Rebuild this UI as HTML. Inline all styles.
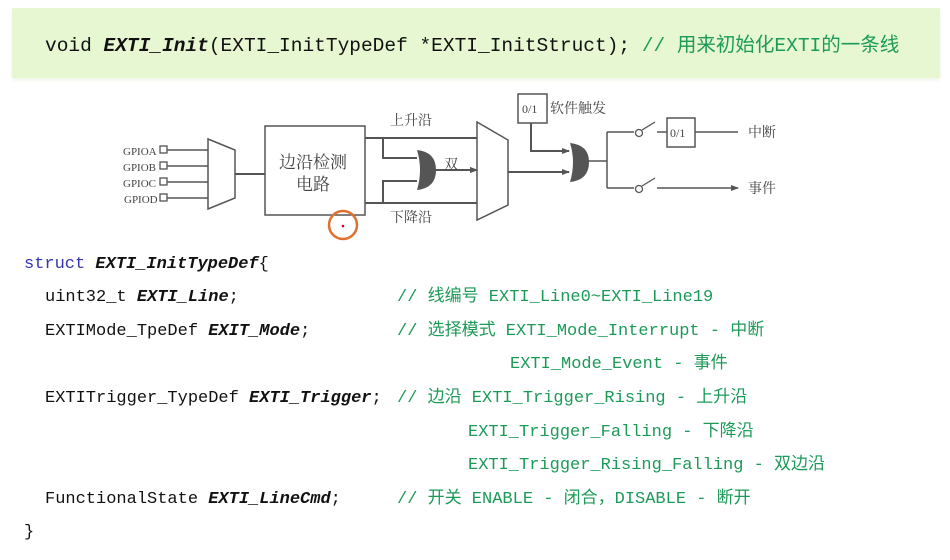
<!DOCTYPE html>
<html><head><meta charset="utf-8"><style>
body{margin:0;width:950px;height:560px;background:#fff;position:relative;overflow:hidden}
.band{position:absolute;left:12px;top:8px;width:928px;height:70px;background:#e6f7d2;box-shadow:0 2px 4px #eef5e6}
.t{position:absolute;white-space:pre;font-family:"Liberation Mono","Noto Sans CJK SC",monospace;font-size:17px;color:#111;line-height:20px}
.g{color:#1c9a58}
.b{font-weight:bold;font-style:italic}
.k{color:#3535b0}
.top{font-size:19.5px;top:36px}
</style></head><body>
<div class="band"></div>
<div class="t top" style="left:45px">void <span class="b">EXTI_Init</span>(EXTI_InitTypeDef *EXTI_InitStruct); <span class="g">// 用来初始化EXTI的一条线</span></div>

<svg style="position:absolute;left:0;top:0" width="950" height="560" xmlns="http://www.w3.org/2000/svg" font-family="Liberation Serif,Noto Serif CJK SC,serif">
<defs><marker id="a" markerWidth="8" markerHeight="8" refX="7" refY="4" orient="auto" markerUnits="userSpaceOnUse"><path d="M0,1 L8,4 L0,7z" fill="#555"/></marker></defs>
<g stroke="#555" stroke-width="2" fill="none">
<g font-size="11" fill="#444" stroke="none">
<text x="123" y="155">GPIOA</text><text x="123" y="171">GPIOB</text><text x="123" y="187">GPIOC</text><text x="124" y="203">GPIOD</text></g>
<rect x="160" y="146" width="7" height="7" stroke-width="1.3"/><rect x="160" y="162" width="7" height="7" stroke-width="1.3"/><rect x="160" y="178" width="7" height="7" stroke-width="1.3"/><rect x="160" y="194" width="7" height="7" stroke-width="1.3"/>
<path d="M167,150H208M167,166H208M167,182H208M167,198H208" stroke-width="1.5"/>
<path d="M208,139L235,150V198L208,209Z" stroke-width="1.5" fill="#fff"/>
<path d="M235,174H265"/>
<rect x="265" y="126" width="100" height="89" stroke-width="1.5" fill="#fff"/>
<path d="M365,138H477M365,203H477M383,138V158H412M383,203V181H412M435,170H477" marker-end="url(#a)"/>
<path d="M365,138H470M365,203H470M383,138V158H410M383,203V181H410M435,170H470"/>
<path d="M470,138H477M470,203H477M410,158H417M410,181H417M470,170H477" marker-end="url(#a)"/>
<path d="M417,150Q436,152 436,170Q436,188 417,190Q423,170 417,150Z" fill="#555" stroke="none"/>
<path d="M477,122L508,140V205L477,220Z" stroke-width="1.5" fill="#fff"/>
<path d="M508,172H562" /><path d="M560,172H569" marker-end="url(#a)"/>
<rect x="518" y="94" width="29" height="29" stroke-width="1.5" fill="#fff"/>
<path d="M531,123V151H562"/><path d="M560,151H569" marker-end="url(#a)"/>
<path d="M570,143Q589,145 589,162Q589,180 570,182Q576,162 570,143Z" fill="#555" stroke="none"/>
<path d="M588,161H607M607,132V188M607,132H634M607,188H634" stroke-width="1.5"/>
<circle cx="639" cy="133" r="3.5" stroke-width="1.3" fill="#fff"/><circle cx="639" cy="189" r="3.5" stroke-width="1.3" fill="#fff"/>
<path d="M642,130L655,122M642,186L655,178" stroke-width="1.3"/>
<path d="M657,132H667" stroke-width="1.5"/>
<rect x="667" y="118" width="28" height="29" stroke-width="1.5" fill="#fff"/>
<path d="M695,132H738M657,188H738" stroke-width="1.5" marker-end="url(#a)"/>
<circle cx="343" cy="225" r="14" stroke="#e07030" stroke-width="2.5"/>
</g>
<circle cx="343" cy="226" r="1.3" fill="#c00"/>
<g fill="#444" font-size="17">
<text x="279" y="168">边沿检测</text><text x="296" y="190">电路</text></g>
<g fill="#444" font-size="14">
<text x="390" y="125">上升沿</text><text x="444" y="169">双</text><text x="390" y="222">下降沿</text>
<text x="550" y="113">软件触发</text><text x="748" y="137">中断</text><text x="748" y="193">事件</text>
<text x="522" y="113" font-size="12">0/1</text><text x="670" y="137" font-size="12">0/1</text></g>
</svg>

<div class="t" style="left:24px;top:255px"><span class="k">struct</span> <span class="b">EXTI_InitTypeDef</span>{</div>
<div class="t" style="left:45px;top:288px">uint32_t <span class="b">EXTI_Line</span>;</div>
<div class="t" style="left:45px;top:322px">EXTIMode_TpeDef <span class="b">EXIT_Mode</span>;</div>
<div class="t" style="left:45px;top:389px">EXTITrigger_TypeDef <span class="b">EXTI_Trigger</span>;</div>
<div class="t" style="left:45px;top:490px">FunctionalState <span class="b">EXTI_LineCmd</span>;</div>
<div class="t" style="left:24px;top:523px">}</div>
<div class="t g" style="left:397px;top:288px">// 线编号 EXTI_Line0~EXTI_Line19</div>
<div class="t g" style="left:397px;top:322px">// 选择模式 EXTI_Mode_Interrupt - 中断</div>
<div class="t g" style="left:510px;top:355px">EXTI_Mode_Event - 事件</div>
<div class="t g" style="left:397px;top:389px">// 边沿 EXTI_Trigger_Rising - 上升沿</div>
<div class="t g" style="left:468px;top:423px">EXTI_Trigger_Falling - 下降沿</div>
<div class="t g" style="left:468px;top:456px">EXTI_Trigger_Rising_Falling - 双边沿</div>
<div class="t g" style="left:397px;top:490px">// 开关 ENABLE - 闭合，DISABLE - 断开</div>
</body></html>
